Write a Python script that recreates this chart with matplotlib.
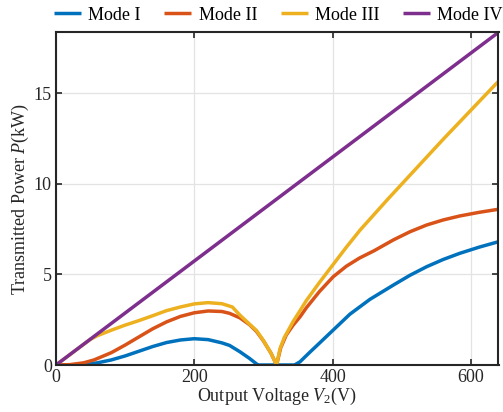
import matplotlib
matplotlib.use("Agg")
import matplotlib.pyplot as plt

plt.rcParams['font.family'] = ['Liberation Serif', 'DejaVu Serif']
plt.rcParams['mathtext.fontset'] = 'custom'
plt.rcParams['mathtext.rm'] = 'Liberation Serif'
plt.rcParams['mathtext.it'] = 'Liberation Serif:italic'

# Mode I
v1 = [0, 25, 40, 60, 80, 100, 120, 140, 160, 180, 200, 220, 240, 251, 266, 280, 290, 292,
      345, 353, 367, 377, 401, 425, 454, 488, 512, 536, 560, 584, 612, 640]
p1 = [0, 0, 0.03, 0.12, 0.28, 0.5, 0.76, 1.02, 1.24, 1.38, 1.45, 1.4, 1.22, 1.08, 0.73, 0.36, 0.06, 0,
      0, 0.18, 0.7, 1.06, 1.93, 2.8, 3.62, 4.41, 4.95, 5.42, 5.82, 6.16, 6.5, 6.8]
# Mode II
v2 = [0, 20, 40, 55, 80, 100, 120, 140, 160, 180, 200, 220, 240, 251, 266, 280, 290, 300, 311, 319,
      325, 333, 343, 353, 362, 381, 401, 420, 439, 460, 488, 512, 536, 560, 584, 612, 640]
p2 = [0, 0.02, 0.12, 0.28, 0.68, 1.1, 1.55, 2.0, 2.38, 2.68, 2.88, 2.98, 2.95, 2.85, 2.6, 2.22, 1.85, 1.33, 0.65, 0,
      0.95, 1.65, 2.2, 2.66, 3.15, 4.05, 4.87, 5.45, 5.9, 6.3, 6.9, 7.35, 7.72, 8.0, 8.22, 8.42, 8.59]
# Mode III
v3 = [0, 20, 40, 50, 60, 80, 100, 120, 140, 160, 180, 200, 220, 240, 255, 266, 280, 290, 300, 311, 319,
      324, 330, 343, 353, 362, 381, 400, 420, 440, 480, 520, 560, 600, 640]
p3 = [0, 0.57, 1.14, 1.42, 1.62, 1.92, 2.2, 2.45, 2.72, 3.0, 3.2, 3.37, 3.44, 3.38, 3.2, 2.75, 2.25, 1.9, 1.35, 0.65, 0,
      0.9, 1.5, 2.4, 3.0, 3.55, 4.55, 5.5, 6.5, 7.45, 9.15, 10.8, 12.45, 14.05, 15.65]
# Mode IV
v4 = [0, 640]
p4 = [0, 18.35]

labels = ['Mode I', 'Mode II', 'Mode III', 'Mode IV']
colors = ['#0072BD', '#D95319', '#EDB120', '#7E2F8E']
xticks = [0, 200, 400, 600]
yticks = [0, 5, 10, 15]

fig = plt.figure(figsize=(5.03, 4.12), dpi=100)
ax = fig.add_axes([56/503, 47/412, 442.5/503, 332.7/412])

for v, p, lab, c in zip([v1, v2, v3, v4], [p1, p2, p3, p4], labels, colors):
    ax.plot(v, p, color=c, lw=2.5, label=lab, solid_capstyle='butt', solid_joinstyle='round')

ax.set_xlim(0, 640)
ax.set_ylim(0, 18.35)
ax.set_xticks(xticks)
ax.set_yticks(yticks)
ax.grid(True, color='#e3e3e3', lw=0.9)
ax.set_axisbelow(True)
ax.tick_params(direction='in', length=4, width=1.2, top=True, right=True,
               labelsize=13, colors='#262626', pad=3)
for s in ax.spines.values():
    s.set_linewidth(1.5)
    s.set_color('#262626')

ax.set_xlabel('Output Voltage $V_2$(V)', fontsize=13, labelpad=0, color='#262626')
ax.set_ylabel('Transmitted Power $P$(kW)', fontsize=13, labelpad=2, color='#262626')

leg = fig.legend(loc='center left', bbox_to_anchor=(54/503, 0.963), ncol=4, frameon=False,
                 fontsize=13, handlelength=1.5, handletextpad=0.4, columnspacing=1.3,
                 borderaxespad=0, borderpad=0)
for line in leg.get_lines():
    line.set_linewidth(2.5)

fig.savefig('out.png', dpi=100)
